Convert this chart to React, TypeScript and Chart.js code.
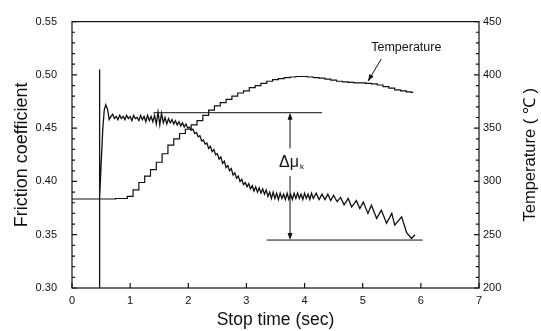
import React, { useEffect, useRef } from "react";
import { Chart, registerables } from "chart.js";

Chart.register(...registerables);

// ---- data ----
const X_TICKS = [0, 1, 2, 3, 4, 5, 6, 7];

const FRICTION_TIME = [
  0.47, 0.47, 0.48, 0.5, 0.53, 0.555, 0.58, 0.61, 0.64, 0.67, 0.7, 0.73, 0.76, 0.79, 0.82, 0.85, 0.88, 0.91, 0.94, 0.97,
  1.0, 1.03, 1.06, 1.09, 1.12, 1.15, 1.18, 1.21, 1.24, 1.27, 1.3, 1.33, 1.36, 1.39, 1.42, 1.45, 1.48, 1.51, 1.54, 1.57,
  1.6, 1.63, 1.66, 1.69, 1.72, 1.75, 1.78, 1.81, 1.84, 1.87, 1.9, 1.93, 1.96, 1.99, 2.02, 2.05, 2.08, 2.11, 2.14, 2.17,
  2.2, 2.23, 2.26, 2.29, 2.32, 2.35, 2.38, 2.41, 2.44, 2.47, 2.5, 2.53, 2.56, 2.59, 2.62, 2.65, 2.68, 2.71, 2.74, 2.77,
  2.8, 2.83, 2.86, 2.89, 2.92, 2.95, 2.98, 3.01, 3.04, 3.07, 3.1, 3.13, 3.16, 3.19, 3.22, 3.25, 3.28, 3.31, 3.34, 3.37,
  3.4, 3.43, 3.46, 3.49, 3.52, 3.55, 3.58, 3.61, 3.64, 3.67, 3.7, 3.73, 3.76, 3.79, 3.82, 3.85, 3.88, 3.91, 3.94, 3.97,
  4.0, 4.03, 4.06, 4.09, 4.12, 4.15, 4.2, 4.25, 4.3, 4.35, 4.4, 4.45, 4.5, 4.56, 4.62, 4.68, 4.75, 4.81, 4.89, 4.95,
  5.01, 5.09, 5.15, 5.24, 5.32, 5.41, 5.5, 5.55, 5.67, 5.755, 5.84, 5.9,
];

const FRICTION = [
  0.3, 0.505, 0.385, 0.415, 0.45, 0.467, 0.472, 0.468, 0.458, 0.461, 0.463, 0.459, 0.461, 0.458, 0.462, 0.459, 0.461, 0.458, 0.462, 0.459,
  0.461, 0.457, 0.462, 0.459, 0.46, 0.457, 0.462, 0.458, 0.461, 0.456, 0.462, 0.457, 0.461, 0.456, 0.462, 0.454, 0.465, 0.453, 0.464, 0.455,
  0.46, 0.454, 0.459, 0.455, 0.458, 0.454, 0.457, 0.453, 0.456, 0.452, 0.455, 0.451, 0.454, 0.45, 0.451, 0.448, 0.449, 0.445, 0.446, 0.442,
  0.443, 0.438, 0.439, 0.435, 0.436, 0.431, 0.433, 0.428, 0.43, 0.425, 0.426, 0.421, 0.423, 0.417, 0.419, 0.413, 0.415, 0.41, 0.412, 0.406,
  0.408, 0.403, 0.405, 0.4, 0.402, 0.397, 0.399, 0.395, 0.398, 0.393, 0.396, 0.391, 0.395, 0.39, 0.394, 0.389, 0.393, 0.388, 0.392, 0.386,
  0.39, 0.384, 0.39, 0.384, 0.389, 0.383, 0.389, 0.384, 0.388, 0.383, 0.389, 0.383, 0.388, 0.383, 0.389, 0.384, 0.389, 0.384, 0.388, 0.383,
  0.389, 0.384, 0.388, 0.383, 0.389, 0.384, 0.389, 0.383, 0.388, 0.383, 0.388, 0.382, 0.387, 0.381, 0.385, 0.378, 0.384, 0.376, 0.382, 0.3745,
  0.3806, 0.37, 0.3776, 0.3653, 0.373, 0.3607, 0.37, 0.359, 0.3668, 0.352, 0.3465, 0.35,
];

const TEMP_TIME = [
  0, 0.1, 0.2, 0.3, 0.4, 0.5, 0.6, 0.7, 0.8, 0.9, 1.0, 1.1, 1.2, 1.3, 1.4, 1.5, 1.6, 1.7, 1.8, 1.9,
  2.0, 2.1, 2.2, 2.3, 2.4, 2.5, 2.6, 2.7, 2.8, 2.9, 3.0, 3.1, 3.2, 3.3, 3.4, 3.5, 3.6, 3.7, 3.8, 3.9,
  4.0, 4.1, 4.2, 4.3, 4.4, 4.5, 4.6, 4.7, 4.8, 4.9, 5.0, 5.1, 5.2, 5.3, 5.4, 5.5, 5.6, 5.7, 5.8, 5.87,
];

const TEMPERATURE = [
  283.5, 283.5, 283.5, 283.5, 283.5, 283.5, 283.5, 283.5, 284, 284, 286, 292, 299, 305, 311, 318, 326, 334, 340, 345,
  349, 353, 357, 362, 367, 371, 374, 377, 380, 383, 385, 388, 390, 392, 394, 395.5, 396.5, 397.5, 398, 398.5,
  398.5, 398, 397.5, 397, 396, 395, 394, 393.5, 393, 392.5, 392.5, 392, 391.5, 390.5, 389, 387.5, 386, 385, 384, 383.5,
];

// annotation values (data space)
const DELTA_TOP = 0.4645;
const DELTA_BOTTOM = 0.345;
const DELTA_X = 3.75;
const TOP_LINE = [1.4, 4.3];
const BOTTOM_LINE = [3.35, 6.03];
const DELTA_GAP = [0.431, 0.405];
const TEMP_LABEL = { x: 5.75, y: 426 };
const TEMP_ARROW = { x0: 5.32, y0: 415, x1: 5.09, y1: 394 };
const RIGHT_TITLE = "Temperature ( ℃ )";

const INK = "#111";
const FONT = "'Liberation Sans', Arial, sans-serif";

const overlay = {
  id: "overlay",
  afterDatasetsDraw(chart: any) {
    const { ctx, chartArea: a, scales } = chart;
    const x = scales.x, y = scales.y, y2 = scales.y2;
    ctx.save();
    ctx.strokeStyle = INK;
    ctx.fillStyle = INK;
    ctx.lineWidth = 1.2;
    ctx.strokeRect(a.left, a.top, a.right - a.left, a.bottom - a.top);

    ctx.beginPath();
    for (const v of X_TICKS) {
      const px = x.getPixelForValue(v);
      ctx.moveTo(px, a.bottom);
      ctx.lineTo(px, a.bottom - 5);
    }
    for (let i = 0; i <= 25; i++) {
      const py = y.getPixelForValue(0.3 + i * 0.01);
      ctx.moveTo(a.left, py);
      ctx.lineTo(a.left + (i % 5 === 0 ? 5 : 3), py);
      const py2 = y2.getPixelForValue(200 + i * 10);
      ctx.moveTo(a.right, py2);
      ctx.lineTo(a.right - (i % 5 === 0 ? 5 : 3), py2);
    }
    ctx.stroke();

    // delta lines
    ctx.lineWidth = 1;
    ctx.beginPath();
    const yt = y.getPixelForValue(DELTA_TOP);
    const yb = y.getPixelForValue(DELTA_BOTTOM);
    ctx.moveTo(x.getPixelForValue(TOP_LINE[0]), yt);
    ctx.lineTo(x.getPixelForValue(TOP_LINE[1]), yt);
    ctx.moveTo(x.getPixelForValue(BOTTOM_LINE[0]), yb);
    ctx.lineTo(x.getPixelForValue(BOTTOM_LINE[1]), yb);
    const ax = x.getPixelForValue(DELTA_X);
    ctx.moveTo(ax, yt + 5);
    ctx.lineTo(ax, y.getPixelForValue(DELTA_GAP[0]));
    ctx.moveTo(ax, y.getPixelForValue(DELTA_GAP[1]));
    ctx.lineTo(ax, yb - 5);
    ctx.stroke();
    // arrowheads
    ctx.beginPath();
    ctx.moveTo(ax, yt);
    ctx.lineTo(ax - 2.5, yt + 7);
    ctx.lineTo(ax + 2.5, yt + 7);
    ctx.closePath();
    ctx.moveTo(ax, yb);
    ctx.lineTo(ax - 2.5, yb - 7);
    ctx.lineTo(ax + 2.5, yb - 7);
    ctx.closePath();
    ctx.fill();

    // delta mu text
    const ty = y.getPixelForValue((DELTA_GAP[0] + DELTA_GAP[1]) / 2);
    ctx.font = `16px ${FONT}`;
    ctx.textBaseline = "middle";
    ctx.textAlign = "center";
    ctx.fillText("Δμ", ax - 1, ty);
    ctx.font = `8px ${FONT}`;
    ctx.textAlign = "left";
    ctx.fillText("k", ax + 10, ty + 5);

    // temperature label + arrow
    ctx.font = `12.5px ${FONT}`;
    ctx.textAlign = "center";
    ctx.fillText("Temperature", x.getPixelForValue(TEMP_LABEL.x), y2.getPixelForValue(TEMP_LABEL.y));
    const p0x = x.getPixelForValue(TEMP_ARROW.x0), p0y = y2.getPixelForValue(TEMP_ARROW.y0);
    const p1x = x.getPixelForValue(TEMP_ARROW.x1), p1y = y2.getPixelForValue(TEMP_ARROW.y1);
    ctx.beginPath();
    ctx.moveTo(p0x, p0y);
    ctx.lineTo(p1x, p1y);
    ctx.stroke();
    const ang = Math.atan2(p1y - p0y, p1x - p0x);
    ctx.beginPath();
    ctx.moveTo(p1x, p1y);
    ctx.lineTo(p1x - 7 * Math.cos(ang) + 2.5 * Math.sin(ang), p1y - 7 * Math.sin(ang) - 2.5 * Math.cos(ang));
    ctx.lineTo(p1x - 7 * Math.cos(ang) - 2.5 * Math.sin(ang), p1y - 7 * Math.sin(ang) + 2.5 * Math.cos(ang));
    ctx.closePath();
    ctx.fill();

    // right axis title, reading bottom-to-top
    ctx.translate(y2.right - 11, (a.top + a.bottom) / 2);
    ctx.rotate(-Math.PI / 2);
    ctx.font = `16.5px ${FONT}`;
    ctx.textAlign = "center";
    ctx.textBaseline = "middle";
    ctx.fillText(RIGHT_TITLE, 0, 0);
    ctx.restore();
  },
};

export default function App() {
  const ref = useRef<HTMLCanvasElement>(null);
  useEffect(() => {
    if (!ref.current) return;
    const chart = new Chart(ref.current, {
      type: "line",
      data: {
        datasets: [
          {
            data: FRICTION_TIME.map((t, i) => ({ x: t, y: FRICTION[i] })),
            yAxisID: "y",
            borderColor: INK,
            borderWidth: 1.3,
            pointRadius: 0,
            tension: 0,
          },
          {
            data: TEMP_TIME.map((t, i) => ({ x: t, y: TEMPERATURE[i] })),
            yAxisID: "y2",
            borderColor: INK,
            borderWidth: 1.2,
            pointRadius: 0,
            stepped: "middle",
          },
        ],
      },
      options: {
        animation: false,
        responsive: true,
        maintainAspectRatio: false,
        layout: { padding: { top: 17, left: 0, right: 0, bottom: 0 } },
        plugins: { legend: { display: false }, tooltip: { enabled: false } },
        scales: {
          x: {
            type: "linear",
            min: 0,
            max: 7,
            afterFit: (s: any) => { s.height = 43; },
            afterBuildTicks: (s: any) => { s.ticks = X_TICKS.map((v) => ({ value: v })); },
            grid: { display: false, drawTicks: false },
            border: { display: false },
            ticks: { color: INK, font: { family: FONT, size: 11 }, padding: 6 },
            title: { display: true, text: "Stop time (sec)", color: INK, font: { family: FONT, size: 17.5 }, padding: { top: 0, bottom: 0 } },
          },
          y: {
            type: "linear",
            position: "left",
            min: 0.3,
            max: 0.55,
            afterFit: (s: any) => { s.width = 72; },
            grid: { display: false, drawTicks: false },
            border: { display: false },
            ticks: { stepSize: 0.05, color: INK, font: { family: FONT, size: 11 }, padding: 15, callback: (v: any) => Number(v).toFixed(2) },
            title: { display: true, text: "Friction coefficient", color: INK, font: { family: FONT, size: 18 }, padding: { top: 11, bottom: 0 } },
          },
          y2: {
            type: "linear",
            position: "right",
            min: 200,
            max: 450,
            afterFit: (s: any) => { s.width = 62; },
            grid: { display: false, drawTicks: false },
            border: { display: false },
            ticks: { stepSize: 50, color: INK, font: { family: FONT, size: 11 }, padding: 4 },
            title: { display: false },
          },
        },
      },
      plugins: [overlay],
    });
    return () => chart.destroy();
  }, []);
  return (
    <div style={{ position: "absolute", left: 0, top: 0, width: 541, height: 331 }}>
      <canvas ref={ref} />
    </div>
  );
}
